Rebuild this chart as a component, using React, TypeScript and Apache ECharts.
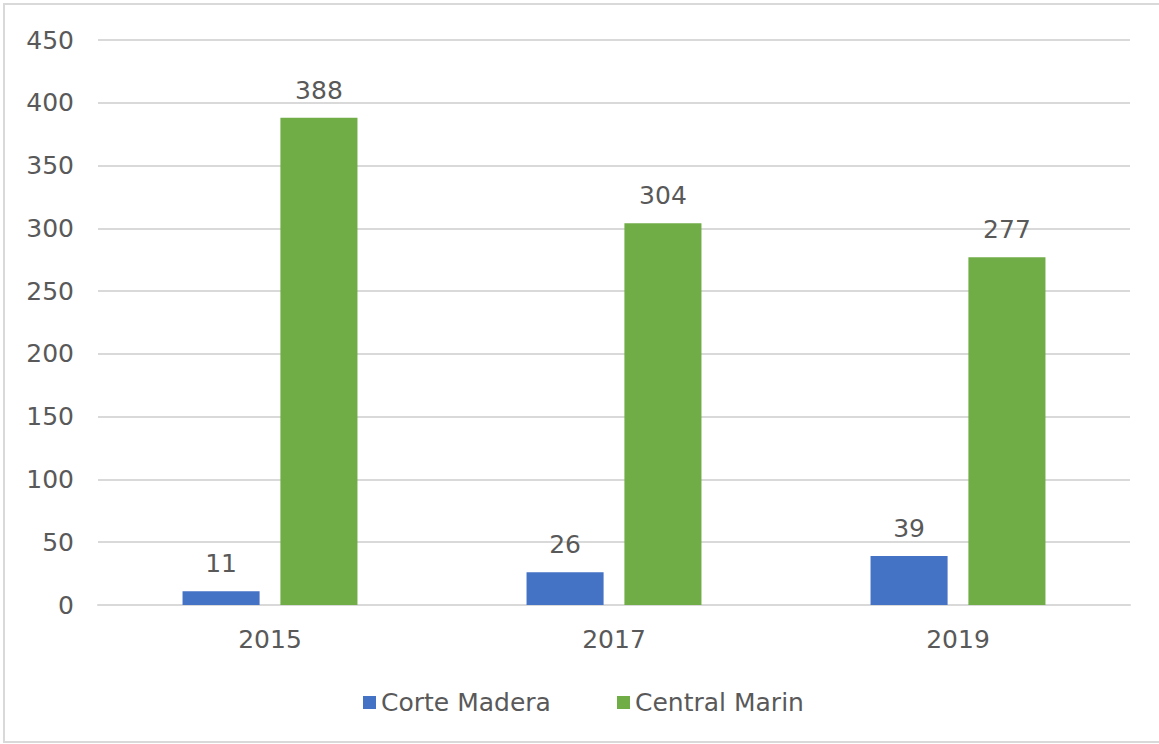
import React, { useEffect, useRef } from "react";
import * as echarts from "echarts";

const years = ["2015", "2017", "2019"];
const corteMadera = [11, 26, 39];
const centralMarin = [388, 304, 277];
const seriesNames = ["Corte Madera", "Central Marin"];

const FONT = "'DejaVu Sans', sans-serif";
const TEXT = "#595959";
const FS = 25;

export default function App() {
  const ref = useRef<HTMLDivElement>(null);
  useEffect(() => {
    const chart = echarts.init(ref.current!, null, { renderer: "svg" });
    const label = {
      show: true,
      position: "top" as const,
      distance: 15,
      color: TEXT,
      fontFamily: FONT,
      fontSize: FS,
    };
    const legendCommon = {
      bottom: 24,
      itemWidth: 13,
      itemHeight: 13,
      icon: "rect",
      textStyle: { color: TEXT, fontSize: FS, fontFamily: FONT },
    };
    chart.setOption({
      animation: false,
      backgroundColor: "#ffffff",
      textStyle: { fontFamily: FONT },
      graphic: [
        {
          type: "rect",
          shape: { x: 4, y: 4, width: 1170, height: 738 },
          style: { fill: "none", stroke: "#d9d9d9", lineWidth: 2 },
          silent: true,
        },
      ],
      grid: { left: 98, right: 29, top: 40, bottom: 139 },
      legend: [
        { ...legendCommon, left: 358, data: [seriesNames[0]] },
        { ...legendCommon, left: 612, data: [seriesNames[1]] },
      ],
      xAxis: {
        type: "category",
        data: years,
        axisLine: { lineStyle: { color: "#d9d9d9", width: 2 } },
        axisTick: { show: false },
        axisLabel: { color: TEXT, fontSize: FS, fontFamily: FONT, margin: 22 },
      },
      yAxis: {
        type: "value",
        min: 0,
        max: 450,
        interval: 50,
        axisLine: { show: false },
        axisTick: { show: false },
        splitLine: { lineStyle: { color: "#d9d9d9", width: 2 } },
        axisLabel: { color: TEXT, fontSize: FS, fontFamily: FONT, margin: 24 },
      },
      series: [
        {
          name: seriesNames[0],
          type: "bar",
          data: corteMadera,
          itemStyle: { color: "#4472C4" },
          barWidth: "22.4%",
          barGap: "27%",
          label,
        },
        {
          name: seriesNames[1],
          type: "bar",
          data: centralMarin,
          itemStyle: { color: "#70AD47" },
          barWidth: "22.4%",
          barGap: "27%",
          label,
        },
      ],
    });
    return () => chart.dispose();
  }, []);
  return (
    <div
      ref={ref}
      style={{ position: "fixed", left: 0, top: 0, width: 1159, height: 744 }}
    />
  );
}
